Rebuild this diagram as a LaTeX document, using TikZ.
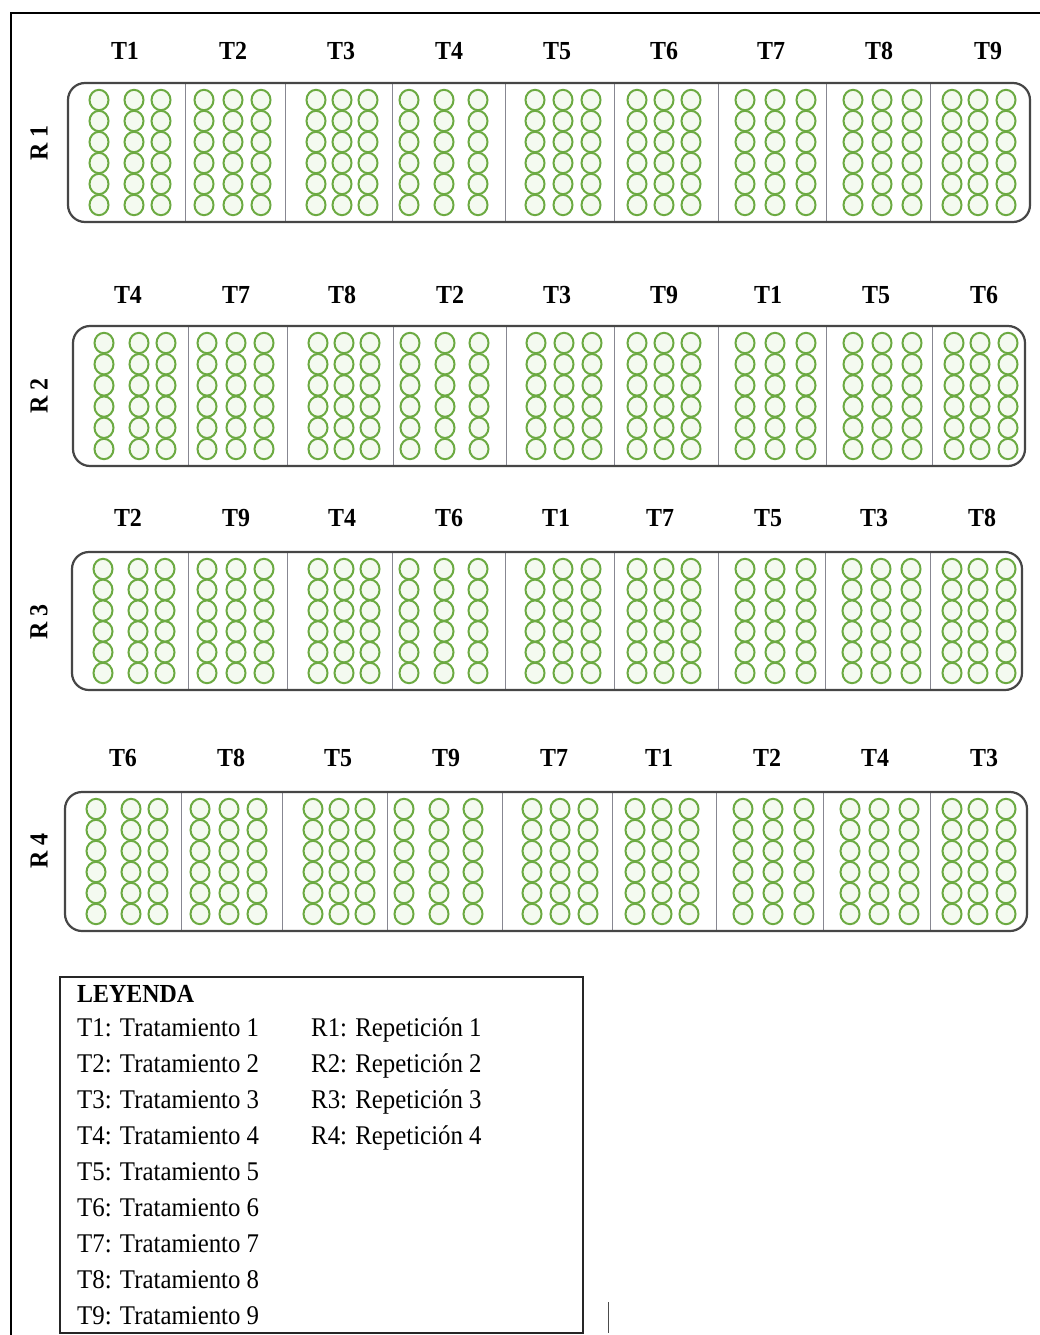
\documentclass[tikz,border=0pt]{standalone}
\usepackage{fontspec}
\setmainfont[FakeStretch=0.92]{Liberation Serif}
\definecolor{plantgreen}{RGB}{108,170,66}
\definecolor{plantfill}{RGB}{244,250,240}
\definecolor{boxgray}{RGB}{70,70,70}
\definecolor{divgray}{RGB}{135,135,145}
\tikzset{
  plant/.style={draw=plantgreen, fill=plantfill, line width=2pt},
  bed/.style={draw=boxgray, line width=2.2pt, rounded corners=17pt},
  divider/.style={draw=divgray, line width=1pt},
  tlabel/.style={font=\fontsize{26}{30}\selectfont\bfseries, inner sep=0pt},
  rlabel/.style={font=\fontsize{26}{30}\selectfont\bfseries, inner sep=0pt, rotate=90},
  legtext/.style={font=\fontsize{27}{32}\selectfont, inner sep=0pt, anchor=base west},
  legtitle/.style={font=\fontsize{26}{30}\selectfont\bfseries, inner sep=0pt, anchor=base west},
  legbox/.style={draw=black!85, line width=1.5pt},
  frame/.style={draw=black, line width=2pt},
}
\def\offA{{31,19,31,17,30,23,27,27,22}}
\def\offB{{66,48,57,52,58,50,57,56,48}}
\def\offC{{93,76,83,86,86,77,88,86,76}}
% #1 row, #2 top, #3 bottom, #4 left, #5 right, #6 dividers, #7 label y, #8 R label y, #9 labels
\newcommand{\drawbed}[9]{%
  \foreach \d in {#6} \draw[divider] (\d,#2) -- (\d,#3);
  \foreach \bx [count=\p from 0] in {#4,#6} {
    \pgfmathsetmacro\ca{\bx+\offA[\p]}
    \pgfmathsetmacro\cb{\bx+\offB[\p]}
    \pgfmathsetmacro\cc{\bx+\offC[\p]}
    \foreach \cx in {\ca,\cb,\cc} {
      \foreach \k in {0,...,5} {
        \draw[plant] (\cx,{#2+17+\k*(#3-#2-34)/5}) circle[x radius=9.5, y radius=10.2];
      }
    }
  }
  \draw[bed] (#4,#2) rectangle (#5,#3);
  \foreach \t/\tx [count=\i] in {#9} \node[tlabel] (t#1-\i) at (\tx,#7) {\t};
  \node[rlabel] (r#1) at (39,#8) {R #1};
}
\begin{document}
\begin{tikzpicture}[x=1pt,y=-1pt]
\useasboundingbox (0,0) rectangle (1039,1335);
\fill[white] (0,0) rectangle (1039,1335);
\draw[frame] (11,1345) -- (11,13) -- (1050,13);

\drawbed{1}{83}{222}{68}{1030}{185,285,392,505,614,718,826,930}{51}{143}%
  {T1/125,T2/233,T3/341,T4/449,T5/557,T6/664,T7/771,T8/879,T9/988}
\drawbed{2}{326}{466}{73}{1025}{188,287,393,506,614,718,826,932}{295}{396}%
  {T4/128,T7/236,T8/342,T2/450,T3/557,T9/664,T1/768,T5/876,T6/984}
\drawbed{3}{552}{690}{72}{1022}{188,287,392,505,614,718,825,930}{518}{622}%
  {T2/128,T9/236,T4/342,T6/449,T1/556,T7/660,T5/768,T3/874,T8/982}
\drawbed{4}{792}{931}{65}{1027}{181,282,387,502,612,716,823,930}{758}{851}%
  {T6/123,T8/231,T5/338,T9/446,T7/554,T1/659,T2/767,T4/875,T3/984}

% legend
\draw[legbox] (60,977) rectangle (583,1333);
\node[legtitle] (leyenda) at (77,1002) {LEYENDA};
\foreach \n [count=\i from 0] in {1,...,9}
  \node[legtext] (lt\n) at (77,{1036+\i*36}) {T\n: Tratamiento \n};
\foreach \n [count=\i from 0] in {1,...,4}
  \node[legtext] (lr\n) at (311,{1036+\i*36}) {R\n: Repetición \n};
\draw[black!70, line width=1pt] (608,1302) -- (608,1333);
\end{tikzpicture}
\end{document}
